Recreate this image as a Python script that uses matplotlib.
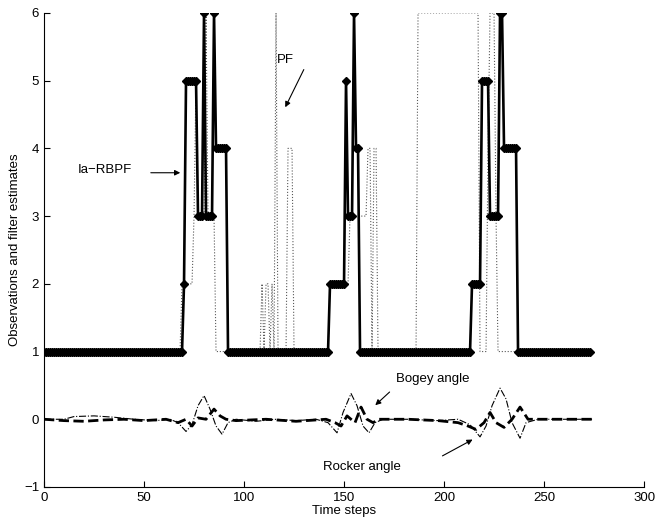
import numpy as np
import matplotlib.pyplot as plt

plt.rcParams['font.family'] = ['Liberation Sans', 'DejaVu Sans']
plt.rcParams['font.size'] = 9.5

# Ia-RBPF estimate, run-length encoded (level, number of steps)
rbpf_levels = [1, 2, 5, 3, 6, 3, 6, 4, 1, 2, 5, 3, 6, 4, 1, 2, 5, 3, 6, 4, 1]
rbpf_counts = [70, 1, 6, 3, 1, 4, 1, 6, 51, 8, 1, 3, 1, 2, 56, 5, 4, 5, 2, 7, 37]

# PF estimate, same encoding
pf_levels = [1, 2, 3, 5, 3, 6, 3, 1, 2, 1, 2, 2, 1, 2, 1, 6, 1, 4, 1,
             2, 3, 4, 1, 4, 1, 6, 1, 4, 6, 3, 1]
pf_counts = [69, 6, 1, 1, 4, 1, 4, 23, 1, 1, 1, 1, 1, 1, 1, 1, 5, 3, 18,
             10, 9, 2, 1, 2, 20, 31, 4, 1, 3, 1, 47]

# joint angles (time step, value)
rocker_t = [0, 10, 15, 25, 35, 45, 56, 63, 67, 71, 74, 77, 80, 83, 86, 89,
            92, 96, 106, 116, 126, 136, 142, 146.5, 149.5, 153.5, 156.5,
            159.5, 162.5, 165.5, 169.5, 182, 197, 207, 213, 218, 221, 224,
            228, 231, 234, 238, 241, 247, 262, 274]
rocker_v = [0, 0.0, 0.04, 0.05, 0.03, 0.0, -0.02, 0.0, -0.05, -0.18, -0.08,
            0.2, 0.35, 0.15, -0.1, -0.22, -0.05, 0.0, -0.03, 0.0, -0.02, 0.0,
            -0.05, -0.2, 0.1, 0.38, 0.2, -0.1, -0.2, -0.05, 0.0, 0.0, -0.02,
            0.0, -0.08, -0.26, -0.1, 0.2, 0.46, 0.3, -0.05, -0.28, -0.05,
            0.0, 0.0, 0.0]
bogey_t = [0, 10, 20, 30, 40, 50, 61, 67, 71, 74, 77, 81, 85, 88, 91, 96,
           111, 126, 141, 145.5, 148.5, 151.5, 155.5, 158.5, 161.5, 164.5,
           167.5, 182, 197, 207, 212, 216, 220, 223, 226, 230, 234, 238,
           242, 257, 274]
bogey_v = [0, -0.02, -0.03, -0.01, 0.0, -0.02, 0.0, -0.05, 0.0, -0.1, 0.02,
           0.0, 0.15, 0.05, 0.0, -0.02, 0.0, -0.03, 0.0, -0.05, -0.1, 0.05,
           -0.05, 0.18, 0.0, -0.05, 0.0, 0.0, -0.02, -0.05, -0.1, -0.15,
           -0.05, 0.1, -0.05, -0.12, 0.0, 0.18, 0.0, 0.0, 0.0]

rbpf = np.repeat(rbpf_levels, rbpf_counts)
pf = np.repeat(pf_levels, pf_counts)
steps = np.arange(len(rbpf))

fig = plt.figure(figsize=(6.59, 5.25), dpi=100)
ax = fig.add_axes([0.0668, 0.0724, 0.9105, 0.903])

ax.plot(steps, pf, ':', color='0.35', lw=0.8)
ax.plot(steps, rbpf, '-', color='black', lw=1.9, marker='D', ms=4.2)
ax.plot(rocker_t, rocker_v, '-.', color='black', lw=0.8)
ax.plot(bogey_t, bogey_v, '--', color='black', lw=2)

arrow = dict(arrowstyle='-|>', color='black', lw=0.8, mutation_scale=8)
ax.text(30.5, 3.68, 'Ia\u2212RBPF', ha='center', va='center')
ax.annotate('', xy=(69.5, 3.64), xytext=(52, 3.64), arrowprops=arrow)
ax.text(120.5, 5.3, 'PF', ha='center', va='center')
ax.annotate('', xy=(120, 4.57), xytext=(130.5, 5.2), arrowprops=arrow)
ax.text(194.5, 0.6, 'Bogey angle', ha='center', va='center')
ax.annotate('', xy=(164.6, 0.18), xytext=(173.8, 0.43), arrowprops=arrow)
ax.text(159, -0.7, 'Rocker angle', ha='center', va='center')
ax.annotate('', xy=(215.5, -0.28), xytext=(198, -0.56), arrowprops=arrow)

ax.set_xlim(0, 300)
ax.set_ylim(-1, 6)
ax.set_xticks(range(0, 301, 50))
ax.set_yticks(range(-1, 7))
ax.tick_params(direction='in', length=4)
ax.spines['top'].set_visible(False)
ax.spines['right'].set_visible(False)
ax.set_xlabel('Time steps', labelpad=1)
ax.set_ylabel('Observations and filter estimates', labelpad=2)

fig.savefig('out.png', dpi=100)
